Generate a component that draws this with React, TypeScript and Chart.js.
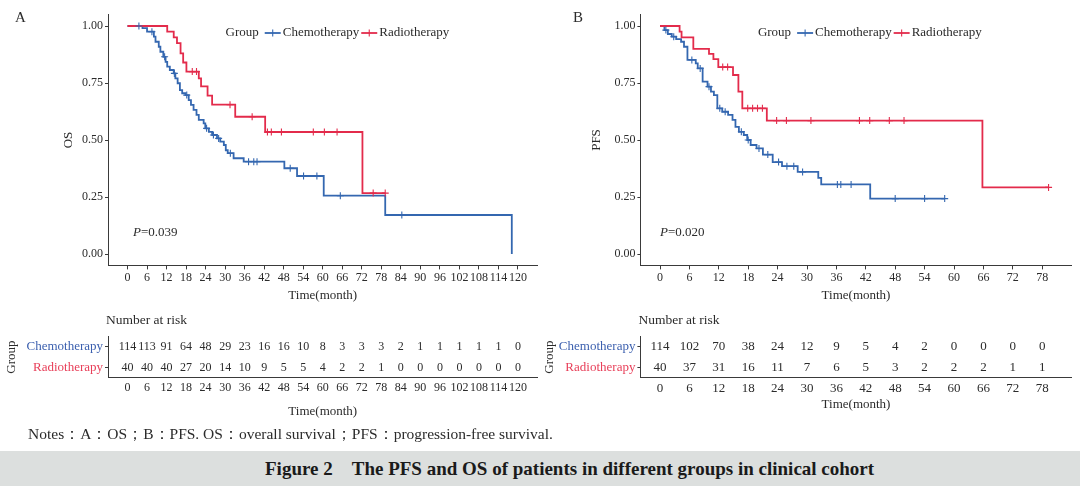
import React, { useEffect, useRef } from "react";
import { Chart, registerables } from "chart.js";

Chart.register(...registerables);

const SERIF = '"Liberation Serif", "Times New Roman", serif';
const BLUE = "#3467b0";
const RED = "#e32b4b";
const BLUE_LABEL = "#3b5fae";
const RED_LABEL = "#e8405a";
const AXIS = "#3a3a3a";
const TEXT = "#2b2b2b";

Chart.defaults.font.family = SERIF;
Chart.defaults.color = TEXT;

const groups = ["Chemotherapy", "Radiotherapy"];

// ---- Overall survival (panel A) ----
const osTicks = [0, 6, 12, 18, 24, 30, 36, 42, 48, 54, 60, 66, 72, 78, 84, 90, 96, 102, 108, 114, 120];

const osChemoTime = [0, 4.6, 6.0, 8.1, 8.6, 9.6, 10.1, 11.0, 11.7, 12.2, 13.0, 14.2, 14.7, 15.4, 16.1, 16.8, 17.8, 18.8, 19.5, 20.3, 21.2, 21.9, 23.4, 23.9, 25.0, 26.0, 27.5, 28.5, 29.6, 30.2, 30.8, 32.6, 35.7, 48.2, 52.1, 60.3, 79.2, 118.1];
const osChemoSurv = [1, 0.991, 0.975, 0.953, 0.931, 0.909, 0.887, 0.865, 0.843, 0.822, 0.807, 0.792, 0.77, 0.749, 0.719, 0.705, 0.697, 0.675, 0.654, 0.632, 0.61, 0.588, 0.573, 0.551, 0.536, 0.522, 0.507, 0.493, 0.478, 0.455, 0.442, 0.42, 0.405, 0.376, 0.342, 0.256, 0.171, 0];
const osChemoCensor = [3.5, 7.5, 11.4, 14.4, 18.2, 24.3, 26.4, 28.0, 31.6, 37.2, 38.8, 39.8, 50.0, 54.1, 58.2, 65.4, 84.3];

const osRadioTime = [0, 12.2, 14.2, 15.2, 16.3, 17.1, 18.1, 21.9, 22.6, 24.6, 26.0, 33.1, 42.3, 72.2, 79.2];
const osRadioSurv = [1, 0.975, 0.95, 0.925, 0.88, 0.84, 0.8, 0.77, 0.735, 0.695, 0.655, 0.602, 0.535, 0.267, 0.267];
const osRadioCensor = [19.9, 21.2, 31.5, 38.3, 43.0, 44.2, 47.3, 57.1, 60.5, 64.4, 75.5, 79.2];

const osRiskChemo = [114, 113, 91, 64, 48, 29, 23, 16, 16, 10, 8, 3, 3, 3, 2, 1, 1, 1, 1, 1, 0];
const osRiskRadio = [40, 40, 40, 27, 20, 14, 10, 9, 5, 5, 4, 2, 2, 1, 0, 0, 0, 0, 0, 0, 0];
const osPValue = "0.039";

// ---- Progression-free survival (panel B) ----
const pfsTicks = [0, 6, 12, 18, 24, 30, 36, 42, 48, 54, 60, 66, 72, 78];

const pfsChemoTime = [0, 0.9, 1.6, 2.4, 3.3, 4.3, 4.9, 5.6, 7.3, 7.7, 8.7, 9.7, 10.4, 11.0, 11.7, 12.7, 13.9, 14.8, 15.4, 16.1, 17.1, 17.8, 18.5, 19.7, 21.0, 23.0, 24.9, 28.1, 32.3, 32.9, 42.9, 58.1];
const pfsChemoSurv = [1, 0.982, 0.965, 0.953, 0.942, 0.931, 0.909, 0.851, 0.836, 0.814, 0.756, 0.734, 0.712, 0.697, 0.639, 0.624, 0.61, 0.588, 0.558, 0.536, 0.522, 0.5, 0.478, 0.463, 0.436, 0.403, 0.385, 0.36, 0.334, 0.305, 0.243, 0.243];
const pfsChemoCensor = [1.2, 2.8, 6.5, 8.2, 10.0, 12.2, 13.3, 16.6, 18.0, 20.2, 22.0, 24.2, 25.9, 27.3, 29.1, 36.2, 36.9, 39.0, 48.0, 54.0, 58.1];

const pfsRadioTime = [0, 4.0, 4.4, 6.8, 10.0, 10.9, 11.9, 14.9, 16.0, 16.8, 21.8, 65.8, 79.3];
const pfsRadioSurv = [1, 0.975, 0.95, 0.9, 0.878, 0.855, 0.82, 0.785, 0.712, 0.639, 0.585, 0.292, 0.292];
const pfsRadioCensor = [12.8, 13.8, 17.9, 18.9, 19.9, 20.9, 23.8, 25.8, 30.8, 40.7, 42.8, 46.8, 49.8, 79.3];

const pfsRiskChemo = [114, 102, 70, 38, 24, 12, 9, 5, 4, 2, 0, 0, 0, 0];
const pfsRiskRadio = [40, 37, 31, 16, 11, 7, 6, 5, 3, 2, 2, 2, 1, 1];
const pfsPValue = "0.020";

const yTicks = [0, 0.25, 0.5, 0.75, 1];

// Kaplan-Meier estimate in effect at time t (used to seat censoring marks on the curve)
function survAt(times: number[], surv: number[], t: number) {
  let v = surv[0];
  for (let i = 0; i < times.length; i++) if (times[i] <= t) v = surv[i];
  return v;
}

type KMSpec = {
  ticks: number[];
  xMin: number;
  xMax: number;
  chemoT: number[];
  chemoS: number[];
  chemoC: number[];
  radioT: number[];
  radioS: number[];
  radioC: number[];
  yTitle: string;
  yTitlePad: number;
  yWidth: number;
  padRight: number;
  pValue: string;
  pAt: number;
};

function kmConfig(s: KMSpec): any {
  const line = (t: number[], v: number[], color: string, label: string) => ({
    label,
    data: t.map((x, i) => ({ x, y: v[i] })),
    stepped: "before",
    borderColor: color,
    borderWidth: 1.8,
    pointRadius: 0,
    fill: false,
    tension: 0,
  });
  const marks = (c: number[], t: number[], v: number[], color: string, label: string) => ({
    label,
    data: c.map((x) => ({ x, y: survAt(t, v, x) })),
    showLine: false,
    pointStyle: "cross",
    pointRadius: 3.5,
    borderColor: color,
    backgroundColor: color,
    borderWidth: 1.1,
  });

  const decor = {
    id: "kmDecor",
    afterDraw(chart: any) {
      const { ctx, chartArea, scales } = chart;
      ctx.save();
      // legend
      const ly = 33;
      let x = chartArea.left + 117.5;
      ctx.font = `13px ${SERIF}`;
      ctx.textBaseline = "middle";
      ctx.textAlign = "left";
      ctx.fillStyle = TEXT;
      ctx.fillText("Group", x, ly);
      x += ctx.measureText("Group").width + 6;
      [[groups[0], BLUE], [groups[1], RED]].forEach(([name, color]) => {
        ctx.strokeStyle = color;
        ctx.lineWidth = 1.8;
        ctx.beginPath();
        ctx.moveTo(x, ly);
        ctx.lineTo(x + 16, ly);
        ctx.stroke();
        ctx.lineWidth = 1.1;
        ctx.beginPath();
        ctx.moveTo(x + 8, ly - 3.5);
        ctx.lineTo(x + 8, ly + 3.5);
        ctx.stroke();
        x += 18;
        ctx.fillStyle = TEXT;
        ctx.fillText(name, x, ly);
        x += ctx.measureText(name).width + 2;
      });
      // log-rank p value
      const px = scales.x.getPixelForValue(s.pAt);
      const py = scales.y.getPixelForValue(0.095);
      ctx.font = `italic 13px ${SERIF}`;
      ctx.fillText("P", px, py);
      const w = ctx.measureText("P").width;
      ctx.font = `13px ${SERIF}`;
      ctx.fillText("=" + s.pValue, px + w, py);
      ctx.restore();
    },
  };

  return {
    type: "line",
    data: {
      datasets: [
        marks(s.radioC, s.radioT, s.radioS, RED, "Radiotherapy censored"),
        marks(s.chemoC, s.chemoT, s.chemoS, BLUE, "Chemotherapy censored"),
        line(s.radioT, s.radioS, RED, "Radiotherapy"),
        line(s.chemoT, s.chemoS, BLUE, "Chemotherapy"),
      ],
    },
    options: {
      animation: false,
      responsive: false,
      events: [],
      layout: { padding: { top: 14.6, right: s.padRight, bottom: 0, left: 0 } },
      plugins: { legend: { display: false }, tooltip: { enabled: false }, title: { display: false } },
      scales: {
        x: {
          type: "linear",
          min: s.xMin,
          max: s.xMax,
          afterBuildTicks: (a: any) => {
            a.ticks = s.ticks.map((value) => ({ value }));
          },
          afterFit: (a: any) => {
            a.height = 44.6;
          },
          grid: { display: true, drawOnChartArea: false, drawTicks: true, tickLength: 4, color: AXIS },
          border: { display: true, color: AXIS, width: 1 },
          ticks: { autoSkip: false, maxRotation: 0, padding: 1, color: TEXT, font: { size: 12, family: SERIF } },
          title: { display: true, text: "Time(month)", color: TEXT, font: { size: 13, family: SERIF }, padding: { top: 0, bottom: 6.2 } },
        },
        y: {
          type: "linear",
          min: -0.05,
          max: 1.05,
          afterBuildTicks: (a: any) => {
            a.ticks = yTicks.map((value) => ({ value }));
          },
          afterFit: (a: any) => {
            a.width = s.yWidth;
          },
          grid: { display: true, drawOnChartArea: false, drawTicks: true, tickLength: 3, color: AXIS },
          border: { display: true, color: AXIS, width: 1 },
          ticks: { padding: 2, color: TEXT, font: { size: 12, family: SERIF }, callback: (v: any) => Number(v).toFixed(2) },
          title: { display: true, text: s.yTitle, color: TEXT, font: { size: 13, family: SERIF }, padding: { top: s.yTitlePad, bottom: 0 } },
        },
      },
    },
    plugins: [decor],
  };
}

type RiskSpec = {
  ticks: number[];
  xMin: number;
  xMax: number;
  chemo: number[];
  radio: number[];
  yWidth: number;
  padRight: number;
  fontSize: number;
  xTitle: string;
  xTitlePad: number;
  groupPad: number;
};

function riskConfig(s: RiskSpec): any {
  const row = (name: string, counts: number[]) => ({
    label: name,
    data: s.ticks.map((x, i) => ({ x, y: name, n: counts[i] })),
    showLine: false,
    pointRadius: 0,
  });
  const numbers = {
    id: "riskNumbers",
    afterDatasetsDraw(chart: any) {
      const { ctx, chartArea } = chart;
      ctx.save();
      ctx.font = `${s.fontSize}px ${SERIF}`;
      ctx.fillStyle = TEXT;
      ctx.textAlign = "center";
      ctx.textBaseline = "middle";
      chart.data.datasets.forEach((ds: any, d: number) => {
        const meta = chart.getDatasetMeta(d);
        meta.data.forEach((el: any, i: number) => {
          ctx.fillText(String(ds.data[i].n), el.x, el.y);
        });
      });
      ctx.textAlign = "left";
      ctx.font = `13.5px ${SERIF}`;
      ctx.fillText("Number at risk", chartArea.left - 2, 15);
      ctx.restore();
    },
  };
  return {
    type: "line",
    data: { datasets: [row(groups[0], s.chemo), row(groups[1], s.radio)] },
    options: {
      animation: false,
      responsive: false,
      events: [],
      layout: { padding: { top: 31.4, right: s.padRight, bottom: 0, left: 0 } },
      plugins: { legend: { display: false }, tooltip: { enabled: false } },
      scales: {
        x: {
          type: "linear",
          min: s.xMin,
          max: s.xMax,
          afterBuildTicks: (a: any) => {
            a.ticks = s.ticks.map((value) => ({ value }));
          },
          afterFit: (a: any) => {
            a.height = 42.1;
          },
          grid: { display: false, drawTicks: false, tickLength: 0 },
          border: { display: true, color: AXIS, width: 1 },
          ticks: { autoSkip: false, maxRotation: 0, padding: 3, color: TEXT, font: { size: s.fontSize, family: SERIF } },
          title: { display: true, text: s.xTitle, color: TEXT, font: { size: 13, family: SERIF }, padding: { top: 0, bottom: s.xTitlePad } },
        },
        y: {
          type: "category",
          labels: groups,
          offset: true,
          afterFit: (a: any) => {
            a.width = s.yWidth;
          },
          grid: { display: true, drawOnChartArea: false, drawTicks: true, tickLength: 3, color: AXIS },
          border: { display: true, color: AXIS, width: 1 },
          ticks: {
            padding: 2,
            font: { size: 13, family: SERIF },
            color: (c: any) => (c.index === 0 ? BLUE_LABEL : RED_LABEL),
          },
          title: { display: true, text: "Group", color: TEXT, font: { size: 13, family: SERIF }, padding: { top: s.groupPad, bottom: 0 } },
        },
      },
    },
    plugins: [numbers],
  };
}

function ChartCanvas({ left, top, width, height, build }: { left: number; top: number; width: number; height: number; build: () => any }) {
  const ref = useRef<HTMLCanvasElement>(null);
  useEffect(() => {
    const chart = new Chart(ref.current as HTMLCanvasElement, build());
    return () => chart.destroy();
  }, []);
  return <canvas ref={ref} width={width} height={height} style={{ position: "absolute", left, top, width, height }} />;
}

export default function App() {
  return (
    <div style={{ position: "fixed", left: 0, top: 0, width: 1080, height: 486, background: "#ffffff", overflow: "hidden", fontFamily: SERIF, color: TEXT }}>
      <ChartCanvas
        left={0}
        top={0}
        width={545}
        height={310}
        build={() =>
          kmConfig({
            ticks: osTicks, xMin: -6, xMax: 126,
            chemoT: osChemoTime, chemoS: osChemoSurv, chemoC: osChemoCensor,
            radioT: osRadioTime, radioS: osRadioSurv, radioC: osRadioCensor,
            yTitle: "OS", yTitlePad: 60.7, yWidth: 108, padRight: 7.5,
            pValue: osPValue, pAt: 1.7,
          })
        }
      />
      <ChartCanvas
        left={540}
        top={0}
        width={540}
        height={310}
        build={() =>
          kmConfig({
            ticks: pfsTicks, xMin: -4, xMax: 84,
            chemoT: pfsChemoTime, chemoS: pfsChemoSurv, chemoC: pfsChemoCensor,
            radioT: pfsRadioTime, radioS: pfsRadioSurv, radioC: pfsRadioCensor,
            yTitle: "PFS", yTitlePad: 48.7, yWidth: 100.4, padRight: 8.4,
            pValue: pfsPValue, pAt: 0,
          })
        }
      />
      <ChartCanvas
        left={0}
        top={305}
        width={545}
        height={115}
        build={() =>
          riskConfig({
            ticks: osTicks, xMin: -6, xMax: 126, chemo: osRiskChemo, radio: osRiskRadio,
            yWidth: 108, padRight: 7.5, fontSize: 12, xTitle: "Time(month)", xTitlePad: 0.5, groupPad: 3.5,
          })
        }
      />
      <ChartCanvas
        left={540}
        top={305}
        width={540}
        height={115}
        build={() =>
          riskConfig({
            ticks: pfsTicks, xMin: -4, xMax: 84, chemo: pfsRiskChemo, radio: pfsRiskRadio,
            yWidth: 100.4, padRight: 8.4, fontSize: 13, xTitle: "Time(month)", xTitlePad: 7.9, groupPad: 1.5,
          })
        }
      />
      <div style={{ position: "absolute", left: 15, top: 8, fontSize: 15, lineHeight: "18px" }}>A</div>
      <div style={{ position: "absolute", left: 573, top: 8, fontSize: 15, lineHeight: "18px" }}>B</div>
      <div style={{ position: "absolute", left: 28, top: 425, fontSize: 15.5, lineHeight: "18px", whiteSpace: "nowrap" }}>
        Notes：A：OS；B：PFS. OS：overall survival；PFS：progression-free survival.
      </div>
      <div style={{ position: "absolute", left: 0, top: 451, width: 1080, height: 35, background: "#dcdfde" }}>
        <div style={{ position: "absolute", left: 265, top: 0, lineHeight: "36px", fontSize: 19, fontWeight: "bold", whiteSpace: "nowrap", color: "#1a1a1a" }}>
          Figure 2{"\u2003"}The PFS and OS of patients in different groups in clinical cohort
        </div>
      </div>
    </div>
  );
}
